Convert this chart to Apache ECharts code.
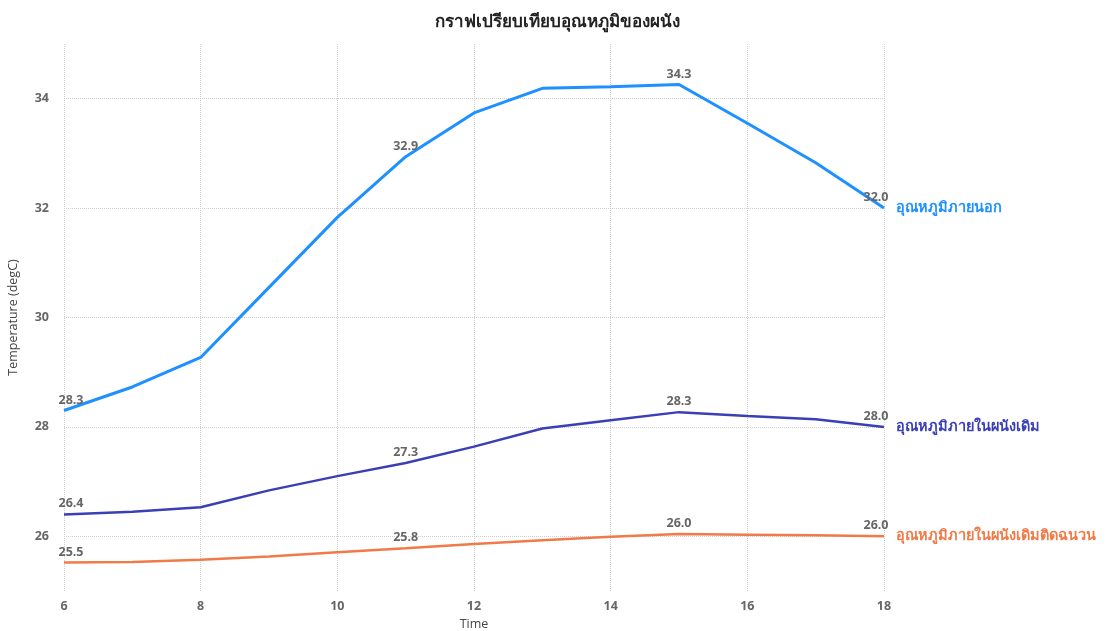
<!DOCTYPE html>
<html>
<head>
<meta charset="utf-8">
<script src="https://cdn.jsdelivr.net/npm/echarts@6/dist/echarts.min.js"></script>
<style>
  html, body { margin: 0; padding: 0; background: #fff; }
  #wallChart { width: 1115px; height: 631px; }
</style>
</head>
<body>
<div id="wallChart"></div>
<script>
// ชั่วโมง (Time)
var hours = [6, 7, 8, 9, 10, 11, 12, 13, 14, 15, 16, 17, 18];
var outsideTemp = [28.3, 28.73, 29.27, 30.55, 31.83, 32.94, 33.74, 34.19, 34.22, 34.26, 33.55, 32.83, 32.0];
var wallTemp = [26.4, 26.45, 26.53, 26.84, 27.1, 27.34, 27.64, 27.97, 28.12, 28.27, 28.2, 28.14, 28.0];
var insulatedTemp = [25.52, 25.53, 25.57, 25.63, 25.71, 25.78, 25.86, 25.93, 25.99, 26.04, 26.03, 26.02, 26.0];
var seriesNames = ['อุณหภูมิภายนอก', 'อุณหภูมิภายในผนังเดิม', 'อุณหภูมิภายในผนังเดิมติดฉนวน'];
var labelHours = [6, 11, 15, 18];

var colorList = ['#1e90ff', '#3b3fb6', '#f07a48'];
var fontName = 'Open Sans, Noto Sans, sans-serif';

var wallChart = echarts.init(document.getElementById('wallChart'));

function buildData(values) {
    var data = [];
    for (var i = 0; i < hours.length; i++) {
        var item = { value: [hours[i], values[i]] };
        if (labelHours.indexOf(hours[i]) >= 0) {
            var dx = 0;
            if (i === 0) dx = 7;
            if (i === hours.length - 1) dx = -8;
            item.label = { show: true, offset: [dx, 0] };
        }
        data.push(item);
    }
    return data;
}

var allValues = [outsideTemp, wallTemp, insulatedTemp];
var series = [];
for (var s = 0; s < allValues.length; s++) {
    series.push({
        name: seriesNames[s],
        type: 'line',
        data: buildData(allValues[s]),
        symbol: 'circle',
        symbolSize: 0,
        showSymbol: true,
        lineStyle: { color: colorList[s], width: s === 0 ? 3 : 2.5 },
        itemStyle: { color: colorList[s] },
        label: {
            show: false,
            position: 'top',
            distance: 4,
            color: '#666',
            fontWeight: 'bold',
            fontSize: 12.5,
            fontFamily: fontName,
            formatter: function (p) { return p.value[1].toFixed(1); }
        },
        endLabel: {
            show: true,
            formatter: '{a}',
            color: colorList[s],
            fontWeight: 'bold',
            fontSize: 14.5,
            distance: 12,
            fontFamily: fontName
        }
    });
}

var option = {
    animation: false,
    title: {
        text: 'กราฟเปรียบเทียบอุณหภูมิของผนัง',
        left: 'center',
        top: 9,
        textStyle: { fontSize: 17, fontWeight: 'bold', color: '#222', fontFamily: fontName }
    },
    grid: { left: 64, right: 231, top: 44, bottom: 40, outerBoundsMode: 'none', containLabel: false },
    xAxis: {
        type: 'value',
        min: 6,
        max: 18,
        interval: 2,
        name: 'Time',
        nameLocation: 'middle',
        nameGap: 27,
        nameTextStyle: { color: '#444', fontSize: 12.5, fontFamily: fontName },
        axisLine: { show: false },
        axisTick: { show: false },
        axisLabel: { color: '#666', fontWeight: 'bold', fontSize: 12.5, margin: 9, fontFamily: fontName },
        splitLine: { show: true, lineStyle: { color: '#cfcfcf', type: 'dotted', width: 1 } }
    },
    yAxis: {
        type: 'value',
        min: 25,
        max: 35,
        splitNumber: 5,
        name: 'Temperature (degC)',
        nameLocation: 'middle',
        nameGap: 44,
        nameTextStyle: { color: '#444', fontSize: 12.5, fontFamily: fontName },
        axisLine: { show: false },
        axisTick: { show: false },
        axisLabel: {
            color: '#666', fontWeight: 'bold', fontSize: 12.5, margin: 15, fontFamily: fontName,
            showMinLabel: false, showMaxLabel: false,
            formatter: function (v) { return v % 2 === 0 ? v : ''; }
        },
        splitLine: { show: true, showMinLine: false, showMaxLine: false, lineStyle: { color: '#cfcfcf', type: 'dotted', width: 1 } }
    },
    series: series
};

wallChart.setOption(option);
</script>
</body>
</html>
